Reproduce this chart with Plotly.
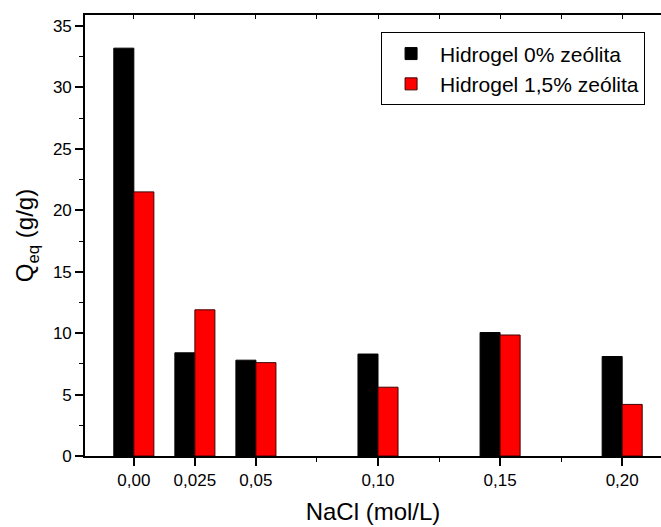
import plotly.graph_objects as go

# Data
nacl = [0.00, 0.025, 0.05, 0.10, 0.15, 0.20]
tick_labels = ["0,00", "0,025", "0,05", "0,10", "0,15", "0,20"]
q_0 = [33.2, 8.4, 7.8, 8.3, 10.05, 8.1]
q_15 = [21.5, 11.9, 7.6, 5.6, 9.85, 4.2]
series_names = ["Hidrogel 0% zeólita", "Hidrogel 1,5% zeólita"]

BAR_W = 0.0082
FONT = "Liberation Sans, Arial, sans-serif"

fig = go.Figure()
fig.add_trace(go.Bar(
    x=nacl, y=q_0, name=series_names[0], width=BAR_W, offset=-BAR_W,
    marker=dict(color="#000000", line=dict(color="#000000", width=1)),
))
fig.add_trace(go.Bar(
    x=nacl, y=q_15, name=series_names[1], width=BAR_W, offset=0,
    marker=dict(color="#FF0000", line=dict(color="#400000", width=1)),
))
# invisible trace to carry the top axis
fig.add_trace(go.Scatter(x=[0], y=[0], xaxis="x2", mode="markers", marker=dict(opacity=0),
                         showlegend=False, hoverinfo="skip"))

xr = [-0.02, 0.2159]
fig.update_layout(
    width=661, height=527,
    margin=dict(l=85, r=0, t=15, b=71),
    paper_bgcolor="white", plot_bgcolor="white",
    barmode="overlay",
    font=dict(family=FONT, color="black", size=17),
    showlegend=True,
    legend=dict(
        x=0.514, y=0.9605, xanchor="left", yanchor="top",
        bgcolor="white", bordercolor="black", borderwidth=1,
        font=dict(family=FONT, size=21, color="black"),
        itemwidth=48, tracegroupgap=0,
    ),
    xaxis=dict(
        range=xr, showline=True, linecolor="black", linewidth=1.6,
        tickmode="array", tickvals=nacl, ticktext=tick_labels,
        ticks="outside", ticklen=8, tickwidth=1.6, tickcolor="black",
        minor=dict(dtick=0.025, tick0=0, ticks="outside", ticklen=4, tickwidth=1.3, tickcolor="black"),
        showgrid=False, zeroline=False,
        tickfont=dict(size=17),
        title=dict(text="NaCl (mol/L)", font=dict(size=24), standoff=14),
    ),
    xaxis2=dict(
        range=xr, overlaying="x", side="top", showline=True, linecolor="black", linewidth=1.6,
        tick0=0, dtick=0.025, ticks="inside", ticklen=4, tickwidth=1.2, tickcolor="black",
        showticklabels=False, showgrid=False, zeroline=False,
    ),
    yaxis=dict(
        range=[0, 35.9], showline=True, linecolor="black", linewidth=1.6,
        tick0=0, dtick=5, ticks="outside", ticklen=8, tickwidth=1.6, tickcolor="black",
        minor=dict(dtick=2.5, ticks="outside", ticklen=4, tickwidth=1.3, tickcolor="black"),
        showgrid=False, zeroline=False,
        tickfont=dict(size=17),
        title=dict(text="Q<sub>eq</sub> (g/g)", font=dict(size=24), standoff=12),
    ),
)

fig.write_html("out.html", config={"displayModeBar": False},
               post_script="document.body.style.margin='0';document.body.style.overflow='hidden';")
